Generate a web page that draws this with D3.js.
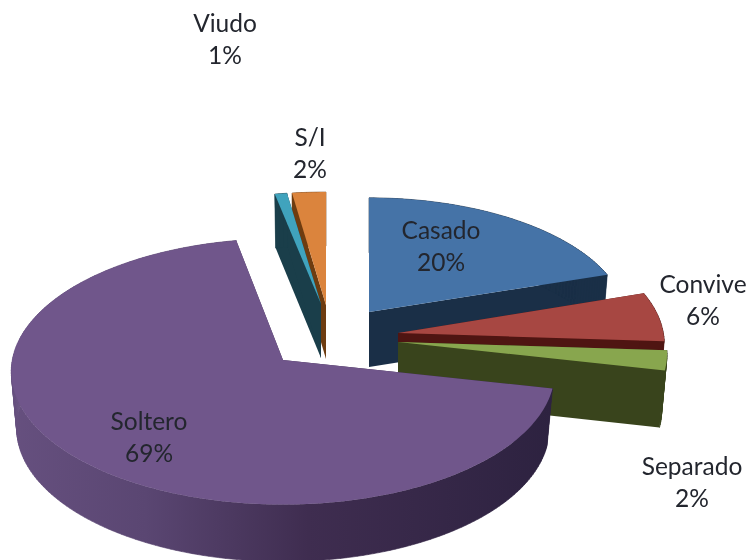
<!DOCTYPE html>
<html><head><meta charset="utf-8">
<script src="https://cdn.jsdelivr.net/npm/d3@7/dist/d3.min.js"></script>
<style>html,body{margin:0;background:#fff}svg{display:block;filter:blur(.6px)}text{font-family:Lato,"Open Sans",sans-serif;font-size:24.5px;fill:#23262e;text-anchor:middle}</style>
</head><body><svg width="750" height="560"></svg>
<script>
// data
const categories = ["Casado","Convive","Separado","Soltero","Viudo","S/I"];
const percents = [20,6,2.4,68.6,.8,2.2];
// style
const topColors = ["#4573a7","#a74742","#88a64e","#70568b","#40a3bd","#db843d"];
const wallColors = ["#1a2f47","#4f1512","#39441c","url(#solteroWall)","#1a3e4a","#6e3c10"];
// layout: exploded apex and local scale per slice; label position
const apexX = [369,398,398,283,321,326], apexY = [312,333,342,360,304,305];
const scaleXs = [.96,.99,1,1.01,1,1], scaleYs = [.94,1,1,1,.92,.93];
const thick = [55,55,57,57,54,54];
const labelX = [441,703,692,149,225,310], labelY = [239,293,475,430,32,146];
const drawOrder = [5,4,0,1,2,3];
const RX = 268, RY = 132, K = .087, BOTTOM = .98;

const svg = d3.select("svg");
const grad = svg.append("defs").append("linearGradient").attr("id","solteroWall")
  .attr("gradientUnits","userSpaceOnUse").attr("x1",10).attr("x2",552).attr("y1",0).attr("y2",0);
[[0,"#66507f"],[.25,"#5a4672"],[.55,"#3f2d50"],[1,"#2d2240"]].forEach(([o,c])=>grad.append("stop").attr("offset",o).attr("stop-color",c));

const arcs = d3.pie().sort(null).value(d=>d)(percents);
const line = d3.line();
function project(i, theta, r, low){
  const u = r*Math.sin(theta), v = r*Math.cos(theta), s = 1/(1+K*v);
  let x = RX*scaleXs[i]*u*s, y = -RY*scaleYs[i]*v*s;
  if(low){ x *= BOTTOM; y += thick[i]; }
  return [apexX[i]+x, apexY[i]+y];
}
function rim(i,a,b,low){
  const n = Math.max(2,Math.ceil((b-a)/.02));
  return d3.range(n+1).map(k=>project(i,a+(b-a)*k/n,1,low));
}
function face(i,t){return [project(i,t,0,false),project(i,t,1,false),project(i,t,1,true),project(i,t,0,true)];}

drawOrder.forEach(i=>{
  const {startAngle:a,endAngle:b} = arcs[i];
  const g = svg.append("g").attr("class","slice");
  const wall = wallColors[i];
  g.append("path").attr("d",line(face(i,a))+"Z").attr("fill",wall);
  g.append("path").attr("d",line(face(i,b))+"Z").attr("fill",wall);
  // outer wall as strips so the silhouette between top and bottom rims is filled
  const up = rim(i,a,b,false), lo = rim(i,a,b,true);
  const strips = d3.range(up.length-1).map(k=>[up[k],up[k+1],lo[k+1],lo[k]]);
  g.append("path").attr("d",strips.map(q=>line(q)+"Z").join("")).attr("fill",wall).attr("stroke",wall).attr("stroke-width",.6);
  g.append("path").attr("d",line([project(i,a,0,false)].concat(up))+"Z").attr("fill",topColors[i]);
});
categories.forEach((c,i)=>{
  const t = svg.append("text").attr("x",labelX[i]).attr("y",labelY[i]);
  t.append("tspan").attr("x",labelX[i]).text(c);
  t.append("tspan").attr("x",labelX[i]).attr("dy",32).text(Math.round(percents[i])+"%");
});
</script></body></html>
